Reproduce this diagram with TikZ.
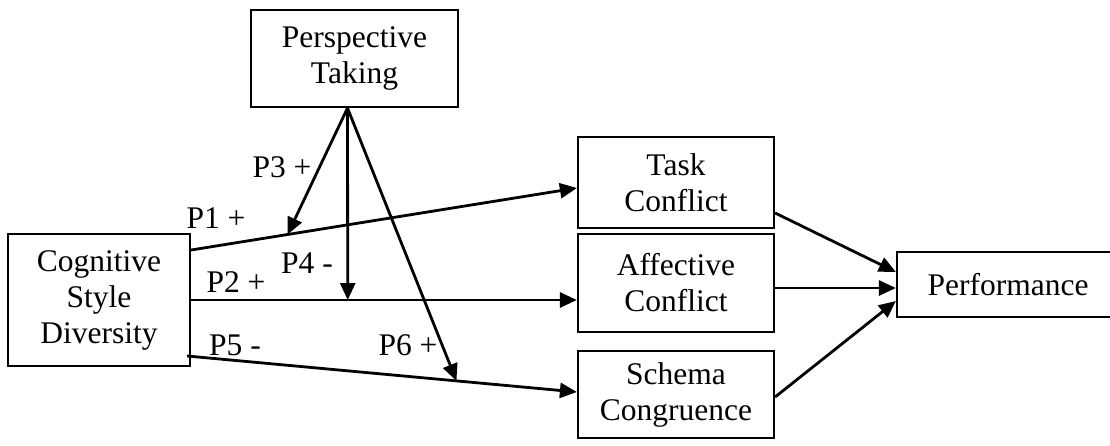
\documentclass[tikz,border=0pt]{standalone}
\usepackage{fontspec}
\setmainfont{Liberation Serif}
\usetikzlibrary{arrows.meta}
\begin{document}
\begin{tikzpicture}[x=1pt,y=-1pt,
  box/.style={draw, line width=2.2pt, inner sep=0pt, align=center, font=\fontsize{31.5}{36}\selectfont},
  lbl/.style={font=\fontsize{31.5}{36}\selectfont, inner sep=0pt},
  arr/.style={line width=2.8pt, -{Triangle[length=17pt,width=15pt]}}]
\useasboundingbox (0,0) rectangle (1110,445);
\begin{scope}
\clip (0,0) rectangle (1110,445);
\node[box, minimum width=207pt, minimum height=97pt] (pt) at (354.5,58.5) {Perspective\\Taking};
\node[box, minimum width=182pt, minimum height=132pt] (cog) at (99,300) {Cognitive\\Style\\Diversity};
\node[box, minimum width=196pt, minimum height=91pt] (task) at (676,182.5) {Task\\Conflict};
\node[box, minimum width=196pt, minimum height=98pt] (aff) at (676,283) {Affective\\Conflict};
\node[box, minimum width=196pt, minimum height=87pt] (sch) at (676,394.5) {Schema\\Congruence};
\node[box, minimum width=222pt, minimum height=65pt] (perf) at (1008,284.5) {Performance};
\end{scope}

\draw[arr] ([yshift=50pt]cog.east) -- coordinate[pos=0.25] (m1) ([yshift=-5.5pt]task.west);
\draw[arr] (cog.east) -- coordinate[pos=0.406] (m2) ([yshift=-17pt]aff.west);
\draw[arr] ([xshift=-4pt,yshift=-56pt]cog.east) -- coordinate[pos=0.691] (m3) ([yshift=2.5pt]sch.west);

\draw[arr] ([xshift=-7pt]pt.south) -- (m1);
\draw[arr] ([xshift=-7pt]pt.south) -- (m2);
\draw[arr] ([xshift=-7pt]pt.south) -- (m3);

\draw[arr] ([yshift=-30.5pt]task.east) -- ([yshift=12.5pt]perf.west);
\draw[arr] ([yshift=-5pt]aff.east) -- ([yshift=-3.5pt]perf.west);
\draw[arr] ([yshift=-2.5pt]sch.east) -- ([yshift=-16.5pt]perf.west);

\node[lbl] (l3) at (282,167) {P3 +};
\node[lbl] (l1) at (216,218) {P1 +};
\node[lbl] (l4) at (307,263) {P4 -};
\node[lbl] (l2) at (236,282) {P2 +};
\node[lbl] (l5) at (235,345) {P5 -};
\node[lbl] (l6) at (408,345) {P6 +};
\end{tikzpicture}
\end{document}
